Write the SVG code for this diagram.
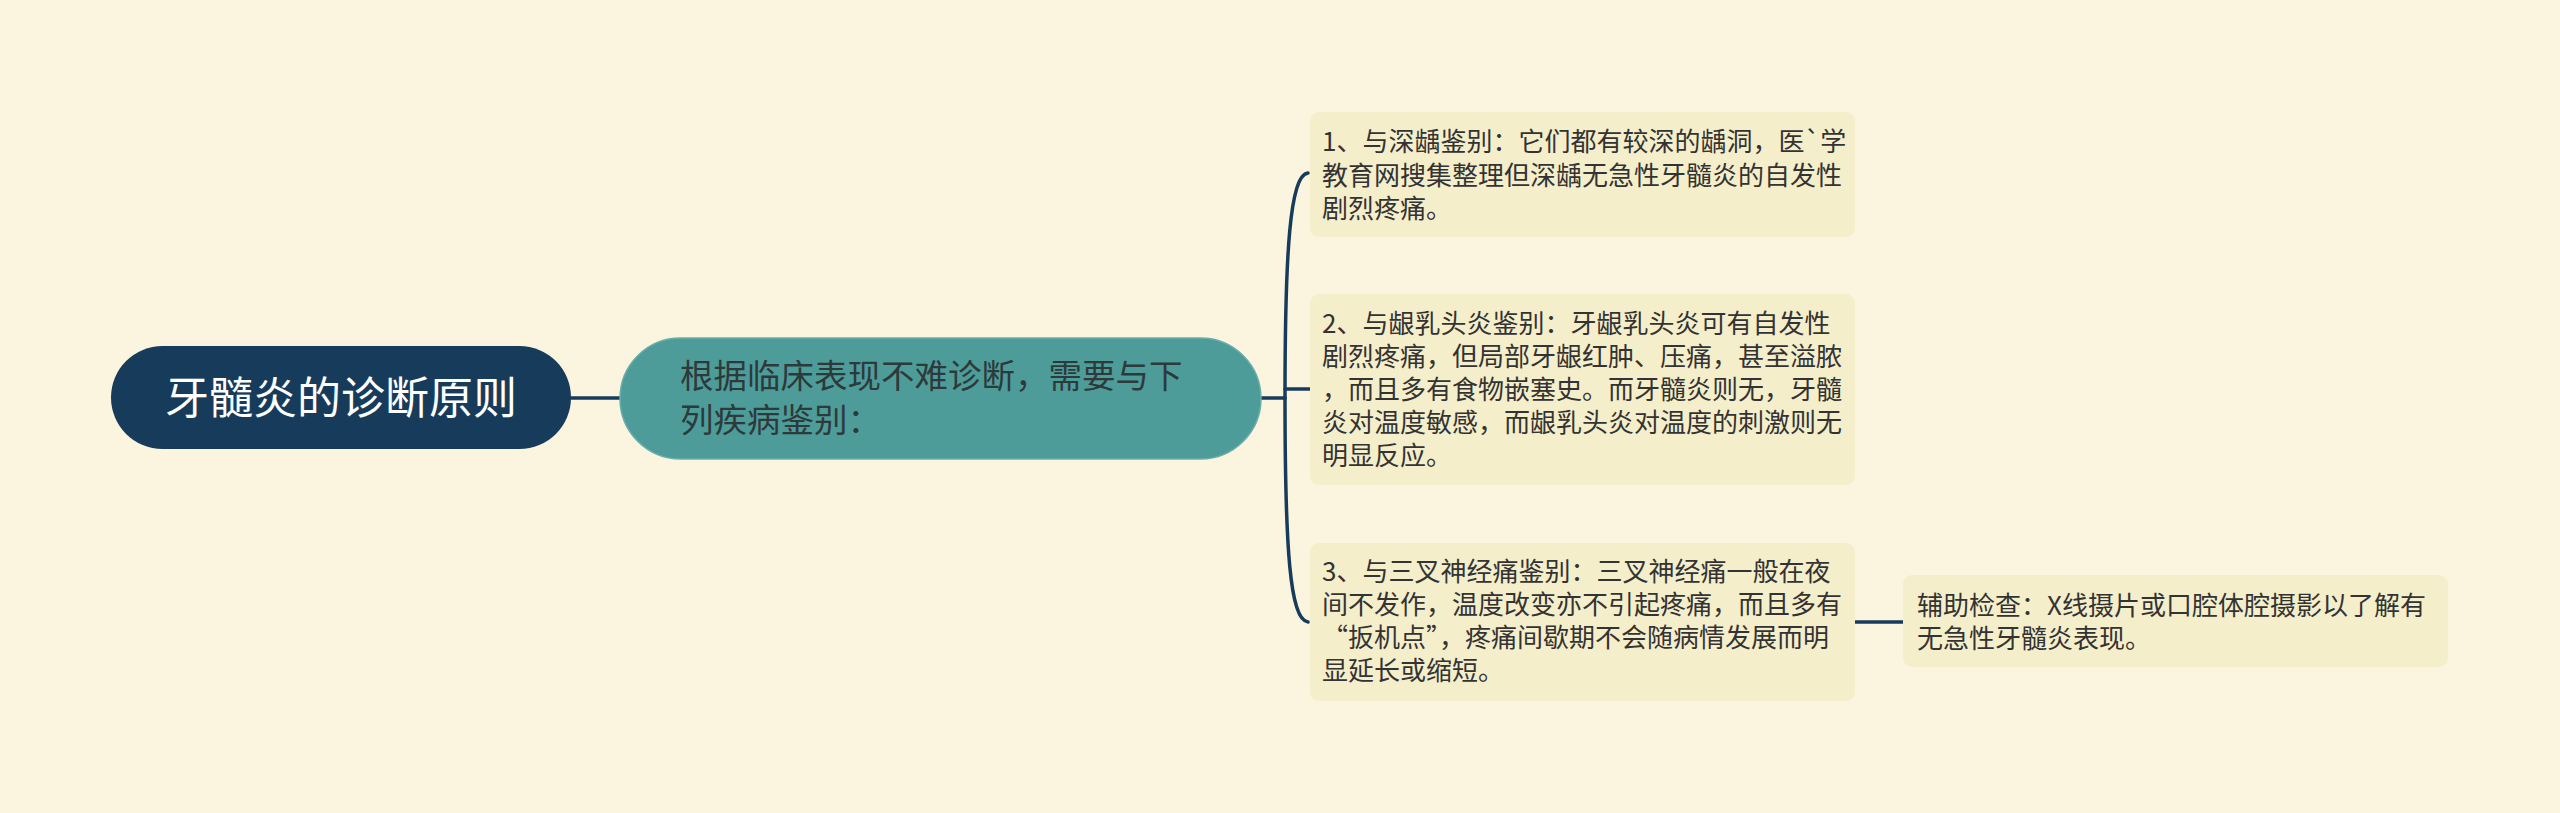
<svg xmlns="http://www.w3.org/2000/svg" width="2560" height="813" viewBox="0 0 2560 813">
<style>
text{font-family:"Noto Sans CJK SC","Noto Sans",sans-serif;}
.conn{fill:none;stroke:#173c5b;stroke-width:3.5;stroke-linecap:round;}
.leaf rect{fill:#f5eecb;}
.leaf text{font-size:26px;fill:#333333;}
.fw{font-feature-settings:"fwid" 1;}
</style>
<rect width="2560" height="813" fill="#fbf5df"/>
<g id="connectors">
<path class="conn" d="M571,398 L620,398"/>
<path class="conn" d="M1261,398 L1285,398"/>
<path class="conn" d="M1285,398 C1285,250 1290,175 1308,173"/>
<path class="conn" d="M1285,389 L1310,389"/>
<path class="conn" d="M1285,398 C1285,550 1290,620 1308,622"/>
<path class="conn" d="M1855,622 L1903,622"/>
</g>
<g id="root">
<rect x="111" y="346" width="460" height="103" rx="51.5" fill="#173c5b"/>
<text x="341" y="414" font-size="44" fill="#ffffff" text-anchor="middle">牙髓炎的诊断原则</text>
</g>
<g id="main">
<rect x="620" y="338" width="641" height="121" rx="60.5" fill="#4d9c9a" stroke="#6aaea9" stroke-width="1.5"/>
<text x="680" y="388" font-size="33.5" fill="#2d3a3a">根据临床表现不难诊断，需要与下</text>
<text x="680" y="432" font-size="33.5" fill="#2d3a3a">列疾病鉴别：</text>
</g>
<g id="c1" class="leaf">
<rect x="1310" y="112" width="545" height="125" rx="9"/>
<text x="1322" y="151">1、与深龋鉴别：它们都有较深的龋洞，医`学</text>
<text x="1322" y="185">教育网搜集整理但深龋无急性牙髓炎的自发性</text>
<text x="1322" y="218">剧烈疼痛。</text>
</g>
<g id="c2" class="leaf">
<rect x="1310" y="294" width="545" height="191" rx="9"/>
<text x="1322" y="333">2、与龈乳头炎鉴别：牙龈乳头炎可有自发性</text>
<text x="1322" y="366">剧烈疼痛，但局部牙龈红肿、压痛，甚至溢脓</text>
<text x="1322" y="399">，而且多有食物嵌塞史。而牙髓炎则无，牙髓</text>
<text x="1322" y="432">炎对温度敏感，而龈乳头炎对温度的刺激则无</text>
<text x="1322" y="465">明显反应。</text>
</g>
<g id="c3" class="leaf">
<rect x="1310" y="543" width="545" height="158" rx="9"/>
<text x="1322" y="581">3、与三叉神经痛鉴别：三叉神经痛一般在夜</text>
<text x="1322" y="614">间不发作，温度改变亦不引起疼痛，而且多有</text>
<text x="1322" y="647" class="fw">“扳机点”，疼痛间歇期不会随病情发展而明</text>
<text x="1322" y="680">显延长或缩短。</text>
</g>
<g id="c4" class="leaf">
<rect x="1903" y="575" width="545" height="92" rx="9"/>
<text x="1917" y="615">辅助检查：X线摄片或口腔体腔摄影以了解有</text>
<text x="1917" y="648">无急性牙髓炎表现。</text>
</g>
</svg>
